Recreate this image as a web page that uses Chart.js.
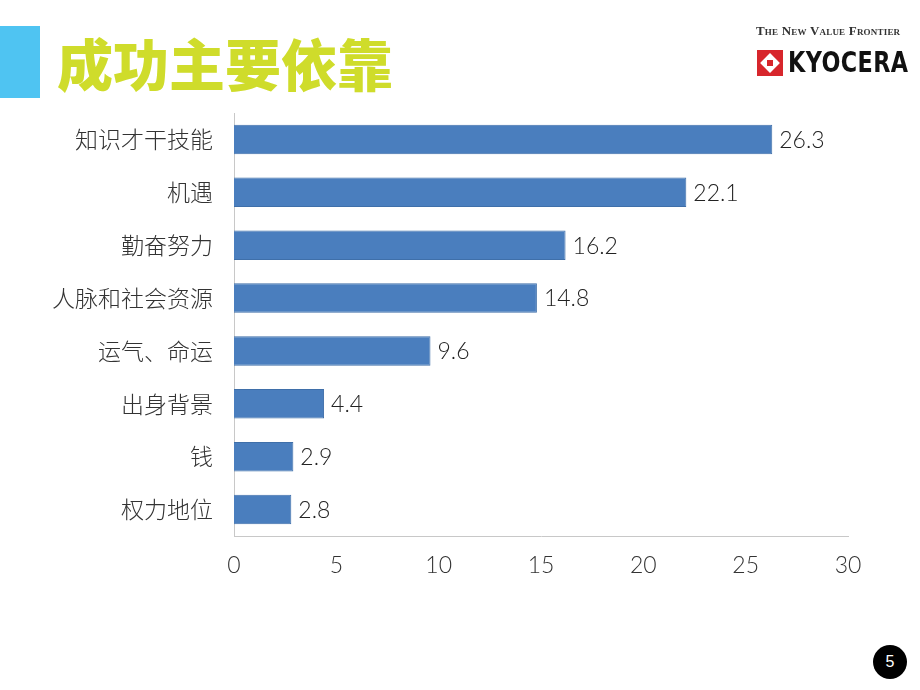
<!DOCTYPE html>
<html>
<head>
<meta charset="utf-8">
<script src="https://cdn.jsdelivr.net/npm/chart.js@4"></script>
<style>
  html, body { margin: 0; padding: 0; background: #fff; }
  #page { position: relative; width: 920px; height: 690px; overflow: hidden; }
  #chart { position: absolute; left: 0; top: 0; }
  .bluebar { position: absolute; left: 0; top: 26px; width: 40px; height: 72px; background: #4fc4f2; }
  .title { position: absolute; left: 57px; top: 24px; font-family: "Noto Sans CJK SC"; font-weight: 900;
           font-size: 56px; line-height: 76px; color: #cfdc2b; }
  .tag { position: absolute; left: 756px; top: 23px; font-family: "Liberation Serif"; font-weight: bold;
         font-size: 13px; font-variant: small-caps; color: #333; letter-spacing: 0.2px; }
  .logo { position: absolute; left: 757px; top: 50px; width: 26px; height: 26px; background: #d7262c; overflow: hidden; }
  .logo i { position: absolute; left: 6px; top: 6px; width: 14px; height: 14px; background: #fff; transform: rotate(45deg); }
  .logo b { position: absolute; left: 10px; top: 10px; width: 6px; height: 6px; background: #d7262c; }
  .kyo { position: absolute; left: 788px; top: 44px; font-family: "DejaVu Sans"; font-weight: bold; font-size: 29px; line-height: 36px;
         color: #111; transform: scaleX(0.77); transform-origin: left top; letter-spacing: 0.5px; }
  .pg { position: absolute; left: 873px; top: 645px; width: 34px; height: 34px; border-radius: 50%; background: #000;
        color: #fff; font-family: "Liberation Sans"; font-size: 16px; line-height: 34px; text-align: center; }
</style>
</head>
<body>
<div id="page">
  <canvas id="chart" width="920" height="690"></canvas>
  <div class="bluebar"></div>
  <div class="title">成功主要依靠</div>
  <div class="tag">The New Value Frontier</div>
  <div class="logo"><i></i><b></b></div>
  <div class="kyo">KYOCERA</div>
  <div class="pg">5</div>
</div>
<script>
const categories = ['知识才干技能', '机遇', '勤奋努力', '人脉和社会资源', '运气、命运', '出身背景', '钱', '权力地位'];
const values = [26.3, 22.1, 16.2, 14.8, 9.6, 4.4, 2.9, 2.8];
const xTicks = [0, 5, 10, 15, 20, 25, 30];

// draw the value next to each bar
const valueLabels = {
    id: 'valueLabels',
    afterDatasetsDraw(chart) {
        const ctx = chart.ctx;
        const meta = chart.getDatasetMeta(0);
        ctx.save();
        ctx.font = '300 23px Lato';
        ctx.fillStyle = '#222';
        ctx.textBaseline = 'middle';
        ctx.textAlign = 'left';
        meta.data.forEach((bar, i) => {
            ctx.fillText(values[i].toFixed(1), bar.x + 7, bar.y + 1);
        });
        ctx.restore();
    }
};

new Chart(document.getElementById('chart'), {
    type: 'bar',
    data: {
        labels: categories,
        datasets: [{
            data: values,
            backgroundColor: '#4a7ebe',
            borderColor: '#3f6fa9',
            borderWidth: 1,
            barPercentage: 0.56,
            categoryPercentage: 1
        }]
    },
    options: {
        indexAxis: 'y',
        responsive: false,
        animation: false,
        layout: {
            padding: { left: 0, top: 113, right: 72, bottom: 104 }
        },
        plugins: {
            legend: { display: false },
            tooltip: { enabled: false }
        },
        scales: {
            x: {
                min: 0,
                max: 30,
                afterBuildTicks(scale) {
                    scale.ticks = xTicks.map(v => ({ value: v }));
                },
                afterFit(scale) { scale.height = 50; },
                grid: { display: false, drawTicks: false },
                border: { display: true, color: '#c8c8c8', width: 1 },
                ticks: {
                    padding: 16,
                    color: '#333',
                    font: { family: 'Lato', size: 23, weight: 300 }
                }
            },
            y: {
                afterFit(scale) { scale.width = 234; },
                grid: { display: false, drawTicks: false },
                border: { display: true, color: '#c8c8c8', width: 1 },
                ticks: {
                    padding: 21,
                    color: '#333',
                    font: { family: 'Noto Sans CJK SC', size: 23, weight: 300 }
                }
            }
        }
    },
    plugins: [valueLabels]
});
</script>
</body>
</html>
